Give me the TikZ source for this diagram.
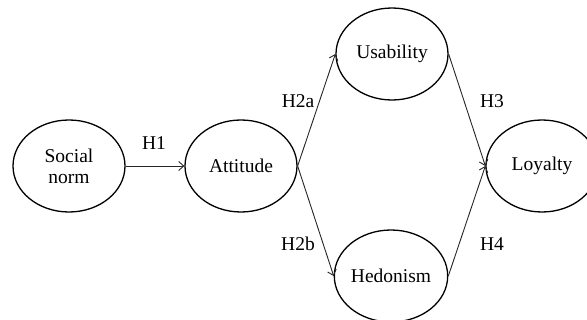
\documentclass[tikz,border=0pt]{standalone}
\usepackage{fontspec}
\setmainfont{Liberation Serif}
\usetikzlibrary{shapes.geometric,arrows.meta}
\begin{document}
\begin{tikzpicture}[x=1pt,y=-1pt,
  construct/.style={draw=black,line width=1.3pt,ellipse,minimum width=112pt,minimum height=92pt,inner sep=0pt,font=\fontsize{19.5}{21}\selectfont,align=center},
  path/.style={draw=black!85,line width=0.9pt,-{Straight Barb[length=5pt,width=9pt]}},
  hlab/.style={font=\fontsize{19.5}{21}\selectfont}]
\useasboundingbox (0,0) rectangle (587,320);
\node[construct] (sn) at (69,166) {Social\\norm};
\node[construct] (att) at (241,166) {Attitude};
\node[construct] (use) at (392,54) {Usability};
\node[construct] (hed) at (391,276) {Hedonism};
\node[construct] (loy) at (542,166) {Loyalty};
\draw[path] (sn.east) -- (att.west);
\draw[path] (att.east) -- (use.west);
\draw[path] (att.east) -- (hed.west);
\draw[path] (use.east) -- (loy.west);
\draw[path] (hed.east) -- (loy.west);
\node[hlab] (h1) at (154,143) {H1};
\node[hlab] (h2a) at (298,101) {H2a};
\node[hlab] (h2b) at (298,244) {H2b};
\node[hlab] (h3) at (492,101) {H3};
\node[hlab] (h4) at (492,244) {H4};
\end{tikzpicture}
\end{document}
